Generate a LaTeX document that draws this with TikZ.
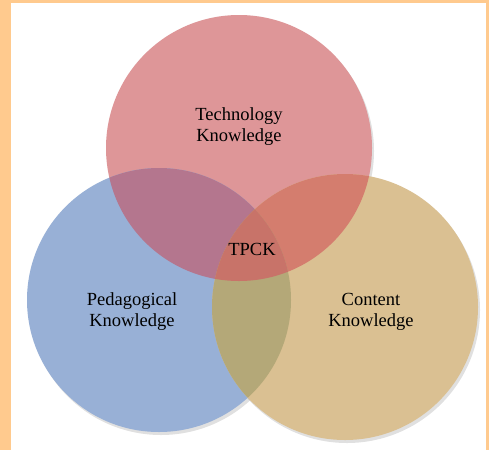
\documentclass[tikz,border=0pt]{standalone}
\usepackage{fontspec}
\setmainfont{Liberation Serif}
\usetikzlibrary{positioning}
\definecolor{pageorange}{RGB}{255,202,142}
\definecolor{techred}{RGB}{222,150,152}
\definecolor{pedblue}{RGB}{152,176,214}
\definecolor{contan}{RGB}{218,192,146}
\definecolor{techped}{RGB}{180,118,142}
\definecolor{techcon}{RGB}{212,125,110}
\definecolor{pedcon}{RGB}{180,168,120}
\definecolor{tpck}{RGB}{200,115,105}
\tikzset{know/.style = {align=center, text=black,
                        font=\fontsize{18.5}{21}\selectfont}}
\tikzset{shade/.style = {fill=black, opacity=0.12}}

\begin{document}
\begin{tikzpicture}[x=1pt, y=-1pt]
      \useasboundingbox (0, 0) rectangle (489, 450);
      \fill [pageorange] (0, 0) rectangle (489, 450);
      \fill [white] (11, 3) rectangle (486, 450);

      \def\techc{(239, 148) circle (133pt)}
      \def\pedc{(159, 300) circle (132pt)}
      \def\conc{(345, 307) circle (133pt)}

      % soft shadows
      \fill [shade] (241, 151) circle (133pt);
      \fill [shade] (161, 303) circle (132pt);
      \fill [shade] (347, 310) circle (133pt);

      \fill [techred] \techc;
      \fill [pedblue] \pedc;
      \fill [contan] \conc;

      % overlaps
      \begin{scope}
        \clip \techc;
        \fill [techped] \pedc;
        \fill [techcon] \conc;
      \end{scope}
      \begin{scope}
        \clip \pedc;
        \fill [pedcon] \conc;
      \end{scope}
      \begin{scope}
        \clip \techc;
        \clip \pedc;
        \fill [tpck] \conc;
      \end{scope}

      \node [know] (tk) at (239, 127) {Technology\\Knowledge};
      \node [know] (pk) at (132, 312) {Pedagogical\\Knowledge};
      \node [know] (ck) at (371, 312) {Content\\Knowledge};
      \node [know] (tpck) at (252, 249) {TPCK};
    \end{tikzpicture}
\end{document}
